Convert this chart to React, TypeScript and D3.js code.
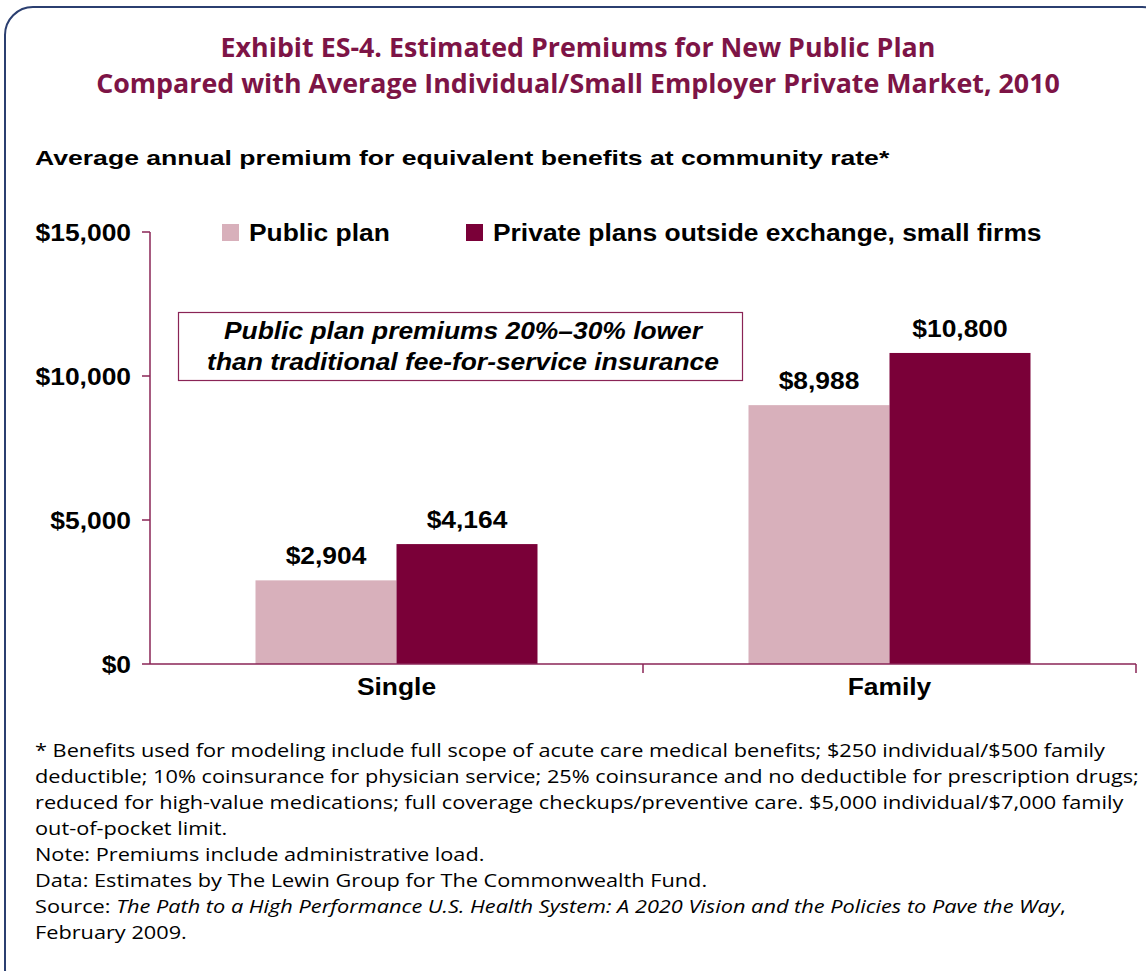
import React from "react";
import * as d3 from "d3";

const categories = ["Single", "Family"];
const seriesNames = ["Public plan", "Private plans outside exchange, small firms"];
const publicValues = [2904, 8988];
const privateValues = [4164, 10800];
const yTicks = [0, 5000, 10000, 15000];
const titleLines = [
  "Exhibit ES-4. Estimated Premiums for New Public Plan",
  "Compared with Average Individual/Small Employer Private Market, 2010",
];
const subtitle = "Average annual premium for equivalent benefits at community rate*";
const annotationLines = [
  "Public plan premiums 20%\u201330% lower",
  "than traditional fee-for-service insurance",
];

const W = 1146;
const H = 971;
const colors = ["#d8b0bb", "#7a0038"];
const axisColor = "#8a2456";
const titleColor = "#7d1446";
const humanist = "'Open Sans', 'Noto Sans', sans-serif";
const arial = "'Liberation Sans', Arial, sans-serif";
const SX = 1.1;

function ST(props: any) {
  const { x, y, sx = SX, anchor = "start", children, ...rest } = props;
  return (
    <text transform={`translate(${x},${y}) scale(${sx},1)`} textAnchor={anchor} fontFamily={arial}
      fontWeight={700} fill="#000" {...rest}>{children}</text>
  );
}

export default function App() {
  const x0 = d3.scaleBand<string>().domain(categories).range([150, 1136]);
  const x1 = d3.scaleBand<string>().domain(seriesNames).range([0, 282]);
  const y = d3.scaleLinear().domain([0, 15000]).range([664, 232]);
  const fmt = d3.format("$,");
  const series = [publicValues, privateValues];

  return (
    <svg width={W} height={H} style={{ position: "absolute", left: 0, top: 0 }}>
      <rect x={0} y={0} width={W} height={H} fill="#fff" />
      <rect x={5} y={7} width={1165} height={990} rx={28} ry={28} fill="none" stroke="#2b3f70" strokeWidth={2} />
      {titleLines.map((t, i) => (
        <text key={i} x={578} y={57 + i * 36} textAnchor="middle" fill={titleColor}
          fontFamily={humanist} fontWeight={700} fontSize={26.8}>{t}</text>
      ))}
      <ST x={35} y={165} sx={1.33} fontSize={20}>{subtitle}</ST>

      {/* legend */}
      {seriesNames.map((s, i) => {
        const lx = [222, 466][i];
        return (
          <g key={s}>
            <rect x={lx} y={224} width={17} height={17} fill={colors[i]} />
            <ST x={lx + 27} y={241} fontSize={24}>{s}</ST>
          </g>
        );
      })}

      {/* axes */}
      <line x1={150} x2={150} y1={y(15000)} y2={y(0)} stroke={axisColor} strokeWidth={1.5} />
      {yTicks.map((t) => (
        <g key={t}>
          <line x1={142} x2={150} y1={y(t)} y2={y(t)} stroke={axisColor} strokeWidth={1.5} />
          <ST x={131} y={y(t) + 9} anchor="end" fontSize={24}>{fmt(t)}</ST>
        </g>
      ))}

      {/* bars */}
      {categories.map((c, ci) => (
        <g key={c} transform={`translate(${(x0(c) as number) + (x0.bandwidth() - 282) / 2},0)`}>
          {seriesNames.map((s, si) => {
            const v = series[si][ci];
            const bx = x1(s) as number;
            return (
              <g key={s}>
                <rect x={bx} y={y(v)} width={x1.bandwidth()} height={y(0) - y(v)} fill={colors[si]} />
                <ST x={bx + x1.bandwidth() / 2} y={y(v) - 16} anchor="middle" fontSize={24}>{fmt(v)}</ST>
              </g>
            );
          })}
        </g>
      ))}

      <line x1={150} x2={1136} y1={y(0)} y2={y(0)} stroke={axisColor} strokeWidth={1.5} />
      {[x0.range()[0] + x0.bandwidth(), 1136].map((tx, i) => (
        <line key={i} x1={tx} x2={tx} y1={y(0)} y2={y(0) + 9} stroke={axisColor} strokeWidth={1.5} />
      ))}
      {categories.map((c) => (
        <ST key={c} x={(x0(c) as number) + x0.bandwidth() / 2} y={695} anchor="middle" fontSize={24}>{c}</ST>
      ))}

      {/* annotation */}
      <rect x={178.5} y={312.5} width={564} height={68} fill="#fff" stroke={axisColor} strokeWidth={1.2} />
      {annotationLines.map((t, i) => (
        <ST key={i} x={463} y={339 + i * 31} anchor="middle" fontSize={24} fontStyle="italic">{t}</ST>
      ))}

      {/* footnotes */}
      <g transform="translate(35,0) scale(1.175,1)">
        <text fontFamily={humanist} fontSize={18.5} fill="#000">
          <tspan x={0} y={757}>* Benefits used for modeling include full scope of acute care medical benefits; $250 individual/$500 family</tspan>
          <tspan x={0} y={783}>deductible; 10% coinsurance for physician service; 25% coinsurance and no deductible for prescription drugs;</tspan>
          <tspan x={0} y={809}>reduced for high-value medications; full coverage checkups/preventive care. $5,000 individual/$7,000 family</tspan>
          <tspan x={0} y={835}>out-of-pocket limit.</tspan>
          <tspan x={0} y={861}>Note: Premiums include administrative load.</tspan>
          <tspan x={0} y={887}>Data: Estimates by The Lewin Group for The Commonwealth Fund.</tspan>
          <tspan x={0} y={913}>Source: </tspan>
          <tspan fontStyle="italic">The Path to a High Performance U.S. Health System: A 2020 Vision and the Policies to Pave the Way</tspan>
          <tspan>,</tspan>
          <tspan x={0} y={939}>February 2009.</tspan>
        </text>
      </g>
    </svg>
  );
}
